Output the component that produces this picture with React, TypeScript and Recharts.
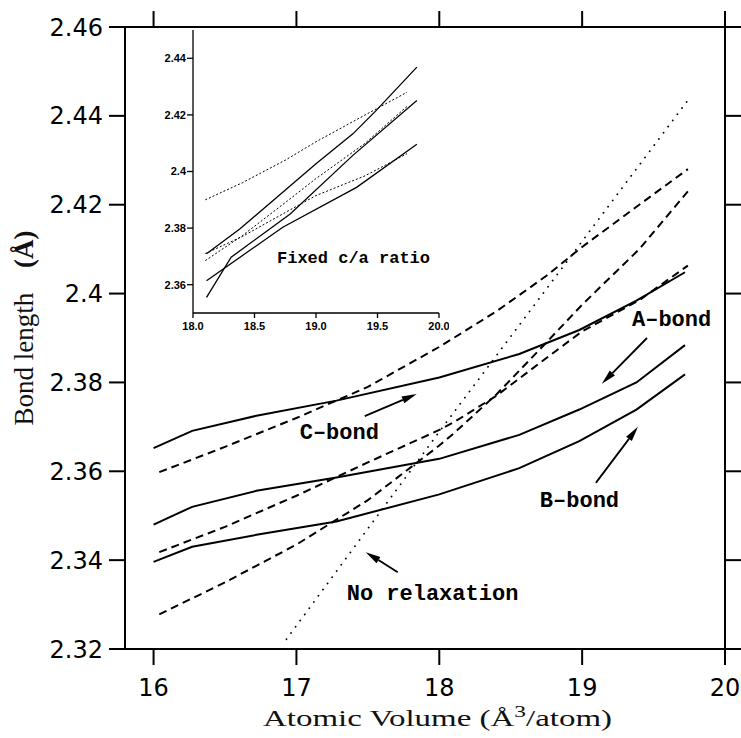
import React from 'react';
import { LineChart, Line, XAxis, YAxis, ReferenceLine, ReferenceDot } from 'recharts';

// ---------- main plot data ----------
const SOLID_X = [16, 16.27, 16.72, 17.28, 18.0, 18.56, 18.98, 19.38, 19.72];
const SOLID_TOP = [2.3652, 2.3691, 2.3725, 2.3759, 2.3811, 2.3864, 2.3918, 2.3984, 2.4048];
const SOLID_MID = [2.348, 2.352, 2.3556, 2.3586, 2.3628, 2.3682, 2.3739, 2.38, 2.3884];
const SOLID_BOT = [2.3396, 2.343, 2.3457, 2.3487, 2.3548, 2.3607, 2.3668, 2.3739, 2.3818];

const DASH_X = [16.04, 16.5, 17.0, 17.5, 18.0, 18.1, 18.4, 18.75, 19.0, 19.4, 19.74];
const DASH_1 = [2.3598, 2.3655, 2.372, 2.379, 2.388, 2.39, 2.396, 2.404, 2.4105, 2.42, 2.428];
const DASH_2 = [2.3418, 2.3475, 2.3545, 2.362, 2.3693, 2.371, 2.377, 2.3855, 2.3915, 2.3985, 2.4063];
const DASH_3 = [2.3278, 2.335, 2.3435, 2.3535, 2.3658, 2.3685, 2.3773, 2.389, 2.3975, 2.41, 2.423];

const NORELAX_X = [16.93, 18.0, 19.74];
const NORELAX_Y = [2.3222, 2.3689, 2.4435];

const X_TICKS = [16, 17, 18, 19, 20];
const Y_TICKS = [2.32, 2.34, 2.36, 2.38, 2.4, 2.42, 2.44, 2.46];

// ---------- inset data (fixed c/a ratio) ----------
const INSET_A_X = [18.11, 18.38, 19.0, 19.3, 19.49, 19.82];
const INSET_A = [2.3709, 2.3797, 2.4027, 2.4133, 2.4216, 2.4369];
const INSET_B_X = [18.11, 18.31, 18.79, 19.3, 19.82];
const INSET_B = [2.3555, 2.3697, 2.385, 2.4057, 2.4251];
const INSET_C_X = [18.11, 18.73, 19.33, 19.82];
const INSET_C = [2.3614, 2.3803, 2.3944, 2.4096];
const INSET_X_TICKS = [18, 18.5, 19, 19.5, 20];
const INSET_Y_TICKS = [2.36, 2.38, 2.4, 2.42, 2.44];

// ---------- annotations ----------
const LABELS = [
  { text: 'A–bond', x: 19.349, y: 2.3927 },
  { text: 'C–bond', x: 17.023, y: 2.3673 },
  { text: 'B–bond', x: 18.704, y: 2.352 },
  { text: 'No relaxation', x: 17.352, y: 2.331 },
];
const ARROWS = [
  { x1: 19.454, y1: 2.39, x2: 19.138, y2: 2.3797 },
  { x1: 17.478, y1: 2.3724, x2: 17.842, y2: 2.3774 },
  { x1: 19.096, y1: 2.3574, x2: 19.391, y2: 2.37 },
  { x1: 17.709, y1: 2.3373, x2: 17.485, y2: 2.3418 },
];

const pts = (xs: number[], ys: number[]) => xs.map((x, i) => ({ x, y: ys[i] }));
const insetPts = (xs: number[], ys: number[]) => pts(xs, ys).filter((p) => p.x >= 18.1);
const blank = () => '';

const Arrow = (props: any) => {
  const { x1, y1, x2, y2 } = props;
  const ang = Math.atan2(y2 - y1, x2 - x1);
  const L = 15;
  const W = 3.6;
  const bx = x2 - L * Math.cos(ang);
  const by = y2 - L * Math.sin(ang);
  const px = -Math.sin(ang) * W;
  const py = Math.cos(ang) * W;
  return (
    <g>
      <line x1={x1} y1={y1} x2={bx} y2={by} stroke="#000" strokeWidth={1.8} />
      <polygon points={`${x2},${y2} ${bx + px},${by + py} ${bx - px},${by - py}`} fill="#000" />
    </g>
  );
};

const labelShape = (text: string, size: number) => (props: any) => (
  <text
    x={props.cx}
    y={props.cy}
    fontFamily="'Liberation Mono', monospace"
    fontWeight="bold"
    fontSize={size}
    fill="#000"
  >
    {text}
  </text>
);

const YTitle = (props: any) => {
  const vb = props.viewBox || { x: 0, y: 19, width: 117, height: 622 };
  const cx = vb.x + 25;
  const cy = vb.y + vb.height / 2 - 10;
  return (
    <text
      transform={`translate(${cx},${cy}) rotate(-90)`}
      textAnchor="middle"
      fontFamily="'Liberation Serif', serif"
      fontSize={27}
      fill="#111"
    >
      Bond length
      <tspan dx={25} fontWeight="bold">(Å)</tspan>
    </text>
  );
};

const XTitle = (props: any) => {
  const vb = props.viewBox || { x: 117, y: 641, width: 600, height: 89 };
  return (
    <text
      x={vb.x + 138}
      y={vb.y + 77}
      fontFamily="'Liberation Serif', serif"
      fontSize={24}
      fill="#111"
      textLength={349}
      lengthAdjust="spacingAndGlyphs"
    >
      Atomic Volume (Å<tspan dy={-9} fontSize={17}>3</tspan>
      <tspan dy={9}>/atom)</tspan>
    </text>
  );
};

const mainTick = { fill: '#000', fontSize: 24, fontFamily: "'DejaVu Sans', sans-serif" };
const insetTick = { fill: '#000', fontSize: 11, fontWeight: 'bold', fontFamily: "'Liberation Sans', sans-serif" };

export default function App() {
  return (
    <div style={{ position: 'absolute', width: 733, height: 730 }}>
      <LineChart width={733} height={730} margin={{ top: 18, right: 15, bottom: 0, left: 0 }}>
        <XAxis
          type="number"
          dataKey="x"
          domain={[15.8, 20]}
          ticks={X_TICKS}
          interval={0}
          allowDataOverflow
          height={89}
          tickSize={16}
          tickMargin={14}
          stroke="#000"
          strokeWidth={2}
          tick={mainTick}
          label={<XTitle />}
        />
        <XAxis
          xAxisId="top"
          orientation="top"
          type="number"
          dataKey="x"
          domain={[15.8, 20]}
          ticks={X_TICKS}
          interval={0}
          allowDataOverflow
          height={1}
          tickSize={16}
          stroke="#000"
          strokeWidth={2}
          tickFormatter={blank}
        />
        <YAxis
          type="number"
          domain={[2.32, 2.46]}
          ticks={Y_TICKS}
          interval={0}
          allowDataOverflow
          width={117}
          tickSize={16}
          tickMargin={6}
          stroke="#000"
          strokeWidth={2}
          tick={mainTick}
          label={<YTitle />}
        />
        <YAxis
          yAxisId="right"
          orientation="right"
          type="number"
          domain={[2.32, 2.46]}
          ticks={Y_TICKS}
          interval={0}
          allowDataOverflow
          width={1}
          tickSize={16}
          stroke="#000"
          strokeWidth={2}
          tickFormatter={blank}
        />
        <Line data={pts(SOLID_X, SOLID_TOP)} dataKey="y" type="linear" stroke="#000" strokeWidth={2} dot={false} isAnimationActive={false} />
        <Line data={pts(SOLID_X, SOLID_MID)} dataKey="y" type="linear" stroke="#000" strokeWidth={2} dot={false} isAnimationActive={false} />
        <Line data={pts(SOLID_X, SOLID_BOT)} dataKey="y" type="linear" stroke="#000" strokeWidth={2} dot={false} isAnimationActive={false} />
        <Line data={pts(DASH_X, DASH_1)} dataKey="y" type="linear" stroke="#000" strokeWidth={2} strokeDasharray="8 5" dot={false} isAnimationActive={false} />
        <Line data={pts(DASH_X, DASH_2)} dataKey="y" type="linear" stroke="#000" strokeWidth={2} strokeDasharray="8 5" dot={false} isAnimationActive={false} />
        <Line data={pts(DASH_X, DASH_3)} dataKey="y" type="linear" stroke="#000" strokeWidth={2} strokeDasharray="8 5" dot={false} isAnimationActive={false} />
        <Line
          data={pts(NORELAX_X, NORELAX_Y)}
          xAxisId="top"
          yAxisId="right"
          dataKey="y"
          type="linear"
          stroke="#000"
          strokeWidth={1.8}
          strokeLinecap="round"
          strokeDasharray="0.1 7.6"
          dot={false}
          isAnimationActive={false}
        />
        {ARROWS.map((a, i) => (
          <ReferenceLine
            key={'a' + i}
            segment={[{ x: a.x1, y: a.y1 }, { x: a.x2, y: a.y2 }]}
            shape={Arrow}
            ifOverflow="visible"
          />
        ))}
        {LABELS.map((l, i) => (
          <ReferenceDot key={'l' + i} x={l.x} y={l.y} r={0} ifOverflow="visible" shape={labelShape(l.text, 22)} />
        ))}
      </LineChart>

      <div style={{ position: 'absolute', left: 145, top: 20 }}>
        <LineChart width={296} height={315} margin={{ top: 2, right: 10, bottom: 0, left: 0 }}>
          <XAxis
            type="number"
            dataKey="x"
            domain={[18, 20]}
            ticks={INSET_X_TICKS}
            interval={0}
            allowDataOverflow
            height={30}
            tickSize={5}
            tickMargin={4}
            stroke="#000"
            strokeWidth={1.3}
            tick={insetTick}
            tickFormatter={(v: number) => v.toFixed(1)}
          />
          <YAxis
            type="number"
            domain={[2.35, 2.45]}
            ticks={INSET_Y_TICKS}
            interval={0}
            allowDataOverflow
            width={40}
            tickSize={6}
            tickMargin={1}
            stroke="#000"
            strokeWidth={1.3}
            tick={insetTick}
          />
          <Line data={pts(INSET_A_X, INSET_A)} dataKey="y" type="linear" stroke="#000" strokeWidth={1.3} dot={false} isAnimationActive={false} />
          <Line data={pts(INSET_B_X, INSET_B)} dataKey="y" type="linear" stroke="#000" strokeWidth={1.3} dot={false} isAnimationActive={false} />
          <Line data={pts(INSET_C_X, INSET_C)} dataKey="y" type="linear" stroke="#000" strokeWidth={1.3} dot={false} isAnimationActive={false} />
          <Line data={insetPts(DASH_X, DASH_1)} dataKey="y" type="linear" stroke="#000" strokeWidth={1} strokeDasharray="2 2" dot={false} isAnimationActive={false} />
          <Line data={insetPts(DASH_X, DASH_2)} dataKey="y" type="linear" stroke="#000" strokeWidth={1} strokeDasharray="2 2" dot={false} isAnimationActive={false} />
          <Line data={insetPts(DASH_X, DASH_3)} dataKey="y" type="linear" stroke="#000" strokeWidth={1} strokeDasharray="2 2" dot={false} isAnimationActive={false} />
          <ReferenceDot x={18.683} y={2.3677} r={0} ifOverflow="visible" shape={labelShape('Fixed c/a ratio', 17)} />
        </LineChart>
      </div>
    </div>
  );
}
